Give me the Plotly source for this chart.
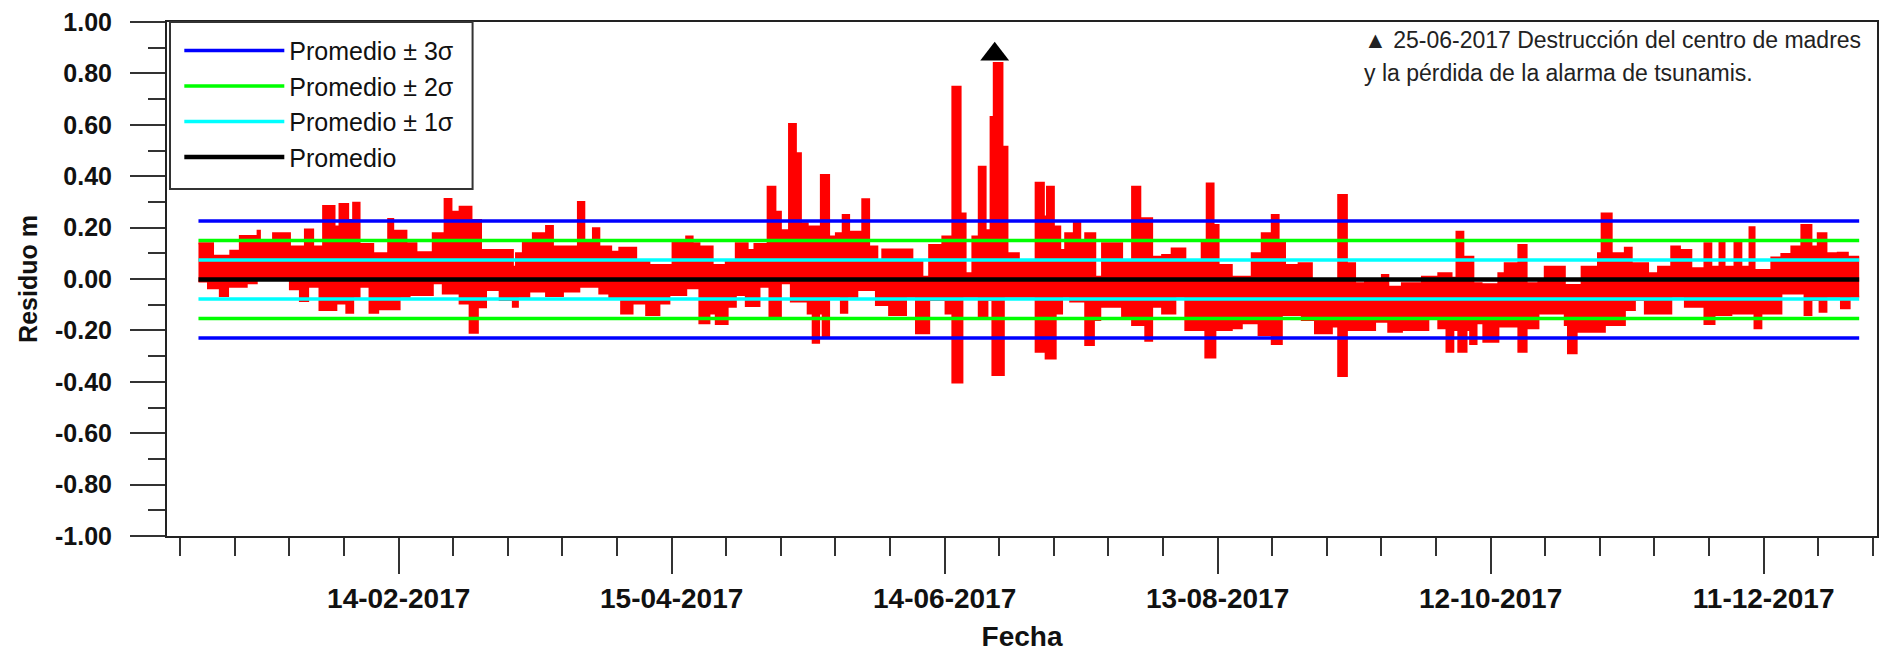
import pandas as pd
import plotly.graph_objects as go

# ---------------- data ----------------
# Upper envelope of the hourly residual: start day (days after 2017-01-01) and value (m)
upper_day = [0, 3.2, 7.0, 9.1, 13.0, 13.5, 16.4, 20.1, 23.4, 25.2, 27.4, 29.9, 31.0, 32.9, 34.0,
             35.4, 38.4, 41.7, 42.8, 45.7, 47.9, 51.5, 54.1, 55.6, 57.4, 60.0, 62.1, 69.1, 69.8,
             71.3, 73.5, 76.4, 77.9, 83.4, 84.8, 86.7,
             88.1, 90.7, 92.5, 96.2, 99.1, 104.2, 107.2, 108.6, 110.1, 113.0, 115.9, 118.1, 120.7,
             122.2, 125.1, 126.8, 128.0, 129.8, 131.3, 132.4, 133.9, 136.8, 138.6, 140.1, 141.6,
             143.0, 145.9, 147.4, 149.2, 150.3, 156.9, 159.1, 160.6, 163.5, 165.7, 167.5, 168.6,
             170.1, 171.5, 173.0, 174.1, 174.8, 176.7, 177.8,
             180.3, 184.0, 185.8, 186.5, 188.0, 189.4, 190.5, 192.4, 193.8, 194.9, 197.1, 198.6,
             203.0, 205.2, 207.0, 209.6, 211.8, 213.9, 216.9, 220.5, 221.6, 223.1, 224.2, 227.1,
             231.5, 233.7, 235.9, 237.4, 238.8, 241.8, 244.7, 246.2, 250.5, 252.4, 254.2, 256.4,
             260.1, 261.5, 264.5, 268.9,
             272.5, 275.4, 276.5, 278.0, 280.2, 282.0, 285.7, 287.1, 290.1, 291.9, 294.5, 295.9,
             300.3, 304.0, 307.6, 308.4, 310.6, 313.5, 315.0, 318.6, 320.8, 323.7, 325.6, 328.1,
             331.0, 332.5, 334.3, 335.4, 337.6, 339.1, 340.9, 342.0, 345.7, 347.9, 350.1, 352.3,
             354.5, 355.9, 357.8, 360.3, 362.5, 365.0]
upper_val = [0.139, 0.09, 0.11, 0.167, 0.188, 0.15, 0.178, 0.126, 0.193, 0.126, 0.284, 0.204, 0.292, 0.23, 0.297,
             0.136, 0.10, 0.233, 0.188, 0.139, 0.104, 0.178, 0.311, 0.262, 0.281, 0.23, 0.113, 0.048, 0.10,
             0.141, 0.178, 0.206, 0.126, 0.30, 0.145, 0.197,
             0.126, 0.106, 0.122, 0.074, 0.054, 0.141, 0.165, 0.139, 0.126, 0.054, 0.074, 0.139, 0.113,
             0.136, 0.359, 0.262, 0.19, 0.603, 0.489, 0.217, 0.204, 0.405, 0.165, 0.178, 0.249,
             0.184, 0.31, 0.126, 0.074, 0.115, 0.074, 0.009, 0.132, 0.165, 0.748, 0.255, 0.022,
             0.165, 0.437, 0.19, 0.63, 0.84, 0.515, 0.10,
             0.074, 0.375, 0.243, 0.359, 0.204, 0.113, 0.178, 0.223, 0.152, 0.178, 0.009, 0.139,
             0.074, 0.359, 0.236, 0.087, 0.093, 0.119, 0.074, 0.152, 0.372, 0.21, 0.054, 0.009,
             0.10, 0.178, 0.249, 0.145, 0.054, 0.061, -0.004, -0.01, 0.327, 0.061, -0.017, -0.004,
             0.016, -0.03, -0.017, 0.009,
             0.022, 0.005, 0.184, 0.087, -0.017, -0.02, 0.022, 0.061, 0.132, -0.017, -0.004, 0.048,
             -0.023, 0.048, 0.10, 0.255, 0.10, 0.122, 0.061, 0.022, 0.048, 0.126, 0.113, 0.042,
             0.139, 0.048, 0.141, 0.048, 0.141, 0.048, 0.201, 0.035, 0.084, 0.097, 0.126, 0.21,
             0.126, 0.178, 0.10, 0.102, 0.087, 0.087]

# Lower envelope of the hourly residual
lower_day = [0, 2.1, 4.7, 6.5, 10.6, 12.8, 20.1, 22.3, 24.1, 26.6, 30.3, 32.5, 34.0, 35.4, 37.6,
             39.5, 44.2, 46.4, 51.5, 53.7, 57.4, 59.6, 61.4, 63.2, 66.2, 69.1, 70.2, 72.7, 76.4,
             80.1, 83.7,
             88.1, 90.3, 92.9, 95.4, 98.4, 101.3, 103.5, 107.2, 110.1, 112.3, 113.7, 116.3, 118.1,
             120.3, 123.3, 125.5, 128.0, 130.2, 133.9, 135.0, 136.4, 137.2, 138.6, 141.2, 142.6,
             144.8, 148.9, 151.8, 155.5, 157.7, 160.6, 164.2, 165.7, 167.9, 171.5, 173.4, 174.5,
             177.0,
             180.3, 184.0, 186.2, 188.4, 189.8, 191.6, 194.9, 196.8, 198.2, 203.0, 205.2, 208.1,
             209.6, 211.8, 214.7, 216.9, 221.3, 223.5, 227.1, 229.3, 233.0, 235.9, 238.1, 242.5,
             245.4, 249.1, 250.5, 252.4, 258.6, 261.5, 264.5, 270.3,
             272.5, 274.3, 275.8, 276.9, 278.7, 279.5, 280.9, 282.4, 285.7, 290.1, 291.9, 294.5,
             300.3, 301.0, 302.9, 309.1, 313.5, 315.7, 317.9, 323.7, 326.7, 331.0, 333.2, 336.9,
             342.0, 343.5, 347.9, 353.0, 354.5, 356.3, 357.8, 361.0, 362.9, 365.0]
lower_val = [-0.01, -0.036, -0.066, -0.03, -0.017, -0.004, -0.04, -0.086, -0.03, -0.121, -0.095, -0.131, -0.069, -0.03, -0.131,
             -0.118, -0.069, -0.062, -0.017, -0.056, -0.095, -0.209, -0.11, -0.043, -0.082, -0.108, -0.069, -0.049, -0.066,
             -0.049, -0.03,
             -0.056, -0.075, -0.134, -0.095, -0.14, -0.095, -0.062, -0.036, -0.172, -0.134, -0.175, -0.108, -0.062,
             -0.105, -0.03, -0.144, -0.017, -0.088, -0.134, -0.248, -0.134, -0.222, -0.069, -0.131, -0.069,
             -0.043, -0.101, -0.14, -0.069, -0.211, -0.082, -0.134, -0.403, -0.069, -0.147, -0.082, -0.374,
             -0.069,
             -0.069, -0.283, -0.309, -0.134, -0.069, -0.088, -0.257, -0.16, -0.108, -0.147, -0.179, -0.24,
             -0.108, -0.134, -0.069, -0.198, -0.305, -0.198, -0.192, -0.172, -0.218, -0.253, -0.14, -0.16,
             -0.211, -0.185, -0.377, -0.198, -0.166, -0.205, -0.198, -0.147,
             -0.192, -0.283, -0.198, -0.283, -0.198, -0.253, -0.172, -0.244, -0.185, -0.283, -0.192, -0.134,
             -0.179, -0.289, -0.205, -0.179, -0.121, -0.082, -0.134, -0.069, -0.108, -0.175, -0.14, -0.134,
             -0.192, -0.134, -0.056, -0.14, -0.082, -0.127, -0.069, -0.114, -0.069, -0.069]

start_date = "2017-01-01"
end_date = "2018-01-01"
mean_val = -0.002
sigma_val = 0.076

event_date = ["2017-06-25"]
event_val = [0.875]

tick_start = "2017-02-14"
major_step_days = 60
minor_step_days = 12

y_tick_vals = [-1.0, -0.8, -0.6, -0.4, -0.2, 0.0, 0.2, 0.4, 0.6, 0.8, 1.0]
y_tick_text = ["-1.00", "-0.80", "-0.60", "-0.40", "-0.20", "0.00", "0.20", "0.40", "0.60", "0.80", "1.00"]
y_minor_vals = [-0.9, -0.7, -0.5, -0.3, -0.1, 0.1, 0.3, 0.5, 0.7, 0.9]

legend_names = ["Promedio ± 3σ", "Promedio ± 2σ", "Promedio ± 1σ", "Promedio"]
legend_k = [3, 2, 1, 0]
legend_colors = ["#0000FF", "#00FF00", "#00FFFF", "#000000"]

note_line1 = "▲ 25-06-2017 Destrucción del centro de madres"
note_line2 = "y la pérdida de la alarma de tsunamis."

# ---------------- figure ----------------
base = pd.Timestamp(start_date)
def to_dates(days):
    return [base + pd.Timedelta(days=d) for d in days]

FONT = "Arial, Liberation Sans, sans-serif"
DAY_MS = 86400000

fig = go.Figure()

fig.add_trace(go.Scatter(x=to_dates(upper_day), y=upper_val, mode="lines",
                         line=dict(color="#FF0000", width=2, shape="hv"),
                         showlegend=False, hoverinfo="skip"))
fig.add_trace(go.Scatter(x=to_dates(lower_day), y=lower_val, mode="lines",
                         line=dict(color="#FF0000", width=2, shape="hv"),
                         fill="tonexty", fillcolor="#FF0000",
                         showlegend=False, hoverinfo="skip"))

for name, k, col in zip(legend_names, legend_k, legend_colors):
    if k == 0:
        xs = [start_date, end_date]
        ys = [mean_val, mean_val]
        w = 4.5
    else:
        xs = [start_date, end_date, None, start_date, end_date]
        ys = [mean_val + k * sigma_val, mean_val + k * sigma_val, None,
              mean_val - k * sigma_val, mean_val - k * sigma_val]
        w = 3.5
    fig.add_trace(go.Scatter(x=xs, y=ys, mode="lines", name=name,
                             line=dict(color=col, width=w)))

fig.add_trace(go.Scatter(x=event_date, y=event_val, mode="markers",
                         marker=dict(symbol="triangle-up", size=25, color="black"),
                         showlegend=False))

fig.update_layout(
    width=1883, height=654,
    margin=dict(l=167, r=4, t=22, b=118),
    paper_bgcolor="white", plot_bgcolor="white",
    font=dict(family=FONT, color="#111"),
    legend=dict(x=0.0072, y=0.989, xanchor="left", yanchor="top",
                bgcolor="rgba(0,0,0,0)", borderwidth=0,
                font=dict(family=FONT, size=25, color="#111"),
                itemwidth=100, traceorder="normal"),
    shapes=[
        dict(type="rect", xref="paper", yref="paper", x0=0.00175, x1=0.1787, y0=0.675, y1=1.0,
             line=dict(color="#333", width=2), fillcolor="white", layer="above"),
    ],
    annotations=[
        dict(xref="paper", yref="paper", x=0.699, y=0.965, xanchor="left", yanchor="middle",
             text=note_line1, showarrow=False, font=dict(family=FONT, size=23, color="#222")),
        dict(xref="paper", yref="paper", x=0.699, y=0.901, xanchor="left", yanchor="middle",
             text=note_line2, showarrow=False, font=dict(family=FONT, size=23, color="#222")),
    ],
)

fig.update_xaxes(
    type="date",
    range=["2016-12-25 02:00", "2018-01-04 22:00"],
    tick0=tick_start, dtick=major_step_days * DAY_MS, tickformat="%d-%m-%Y",
    ticks="outside", ticklen=36, tickwidth=2, tickcolor="#333",
    tickfont=dict(family=FONT, size=28, color="#111", weight="bold"),
    showline=True, linecolor="#222", linewidth=2, mirror=True,
    showgrid=False, zeroline=False,
    minor=dict(ticks="outside", ticklen=18, tickwidth=2, tickcolor="#333",
               tick0=tick_start, dtick=minor_step_days * DAY_MS, showgrid=False),
    title=dict(text="Fecha", font=dict(family=FONT, size=28, color="#111", weight="bold"),
               standoff=14),
)
fig.update_yaxes(
    range=[-1, 1], tickmode="array", tickvals=y_tick_vals, ticktext=y_tick_text,
    ticks="outside", ticklen=35, tickwidth=2, tickcolor="#333",
    tickfont=dict(family=FONT, size=25, color="#111", weight="bold"),
    ticklabelstandoff=13,
    showline=True, linecolor="#222", linewidth=2, mirror=True,
    showgrid=False, zeroline=False,
    minor=dict(ticks="outside", ticklen=17, tickwidth=2, tickcolor="#333",
               tickmode="array", tickvals=y_minor_vals, showgrid=False),
    title=dict(text="Residuo m", font=dict(family=FONT, size=25, color="#111", weight="bold"),
               standoff=10),
)

fig.write_html("out.html", config={"displayModeBar": False},
               post_script="document.body.style.margin='0';")
